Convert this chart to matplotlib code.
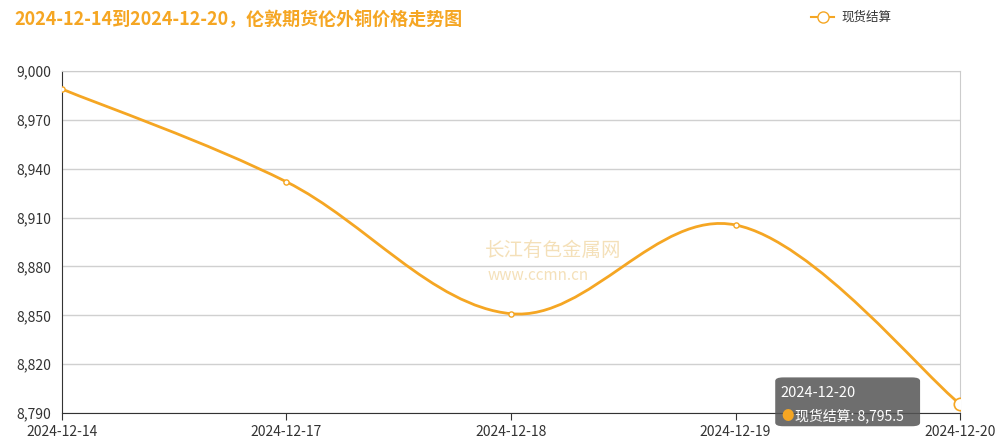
import numpy as np
import matplotlib.pyplot as plt
from matplotlib.path import Path
from matplotlib.patches import PathPatch, FancyBboxPatch

plt.rcParams['font.family'] = ['Noto Sans CJK SC', 'DejaVu Sans']

dates = ['2024-12-14', '2024-12-17', '2024-12-18', '2024-12-19', '2024-12-20']
prices = [8989, 8932, 8851, 8905.5, 8795.5]
series_name = '现货结算'
title = '2024-12-14到2024-12-20，伦敦期货伦外铜价格走势图'
color = '#f5a623'

fig = plt.figure(figsize=(9.99, 4.44), dpi=100)
ax = fig.add_axes([0.062, 0.0698, 0.899, 0.770])

x = np.arange(len(dates))
y = np.array(prices)

# smooth curve like echarts (bezier with control points)
verts = [(x[0], y[0])]
codes = [Path.MOVETO]
s = 0.35
for i in range(len(x) - 1):
    p0 = (x[i - 1], y[i - 1]) if i > 0 else (x[i], y[i])
    p3 = (x[i + 2], y[i + 2]) if i + 2 < len(x) else (x[i + 1], y[i + 1])
    c1 = (x[i] + s * (x[i + 1] - p0[0]) / 2, y[i] + s * (y[i + 1] - p0[1]) / 2)
    c2 = (x[i + 1] - s * (p3[0] - x[i]) / 2, y[i + 1] - s * (p3[1] - y[i]) / 2)
    verts += [c1, c2, (x[i + 1], y[i + 1])]
    codes += [Path.CURVE4] * 3
ax.add_patch(PathPatch(Path(verts, codes), fill=False, edgecolor=color, lw=2, zorder=3))
ax.scatter(x[:-1], y[:-1], s=14, facecolor='white', edgecolor=color, lw=1, zorder=4)
ax.scatter(x[-1:], y[-1:], s=80, facecolor='white', edgecolor=color, lw=1.2, zorder=4)

ax.set_xlim(0, len(dates) - 1)
ax.set_ylim(8790, 9000)
ax.set_yticks(np.arange(8790, 9001, 30))
ax.set_yticklabels([f'{v:,}' for v in range(8790, 9001, 30)])
ax.set_xticks(x)
ax.set_xticklabels(dates)
ax.tick_params(labelsize=10, colors='#333333', length=5)
ax.tick_params(axis='y', length=0, pad=8)
ax.grid(axis='y', color='#d0d0d0', lw=1)
ax.set_axisbelow(True)
for sp in ['top', 'right']:
    ax.spines[sp].set_color('#cccccc')
ax.spines['left'].set_color('#333333')
ax.spines['bottom'].set_color('#333333')

fig.text(0.014, 0.955, title, color=color, fontsize=13, fontweight='bold', va='center')
fig.lines.append(plt.Line2D([0.812, 0.835], [0.962, 0.962], color=color, lw=1.5, transform=fig.transFigure))
fig.lines.append(plt.Line2D([0.8235], [0.962], marker='o', ms=8, mfc='white', mec=color, transform=fig.transFigure))
fig.text(0.842, 0.962, series_name, fontsize=9, color='#333333', va='center')

# watermark
fig.text(0.485, 0.435, '长江有色金属网', fontsize=14, color='#f2d9a8', alpha=0.8, va='center')
fig.text(0.488, 0.38, 'www.ccmn.cn', fontsize=11, color='#f2d9a8', alpha=0.8, va='center')

# tooltip
tip = FancyBboxPatch((0.776, 0.04), 0.145, 0.11, boxstyle='round,pad=0,rounding_size=0.008',
                     transform=fig.transFigure, facecolor='#555555', alpha=0.85, edgecolor='none', zorder=10)
fig.patches.append(tip)
fig.text(0.781, 0.115, dates[-1], color='white', fontsize=10.5, va='center', zorder=11)
fig.text(0.782, 0.063, '●', color=color, fontsize=9, va='center', zorder=11)
fig.text(0.796, 0.063, f'{series_name}: {prices[-1]:,}', color='white', fontsize=10, va='center', zorder=11)

fig.savefig('out.png', dpi=100)
